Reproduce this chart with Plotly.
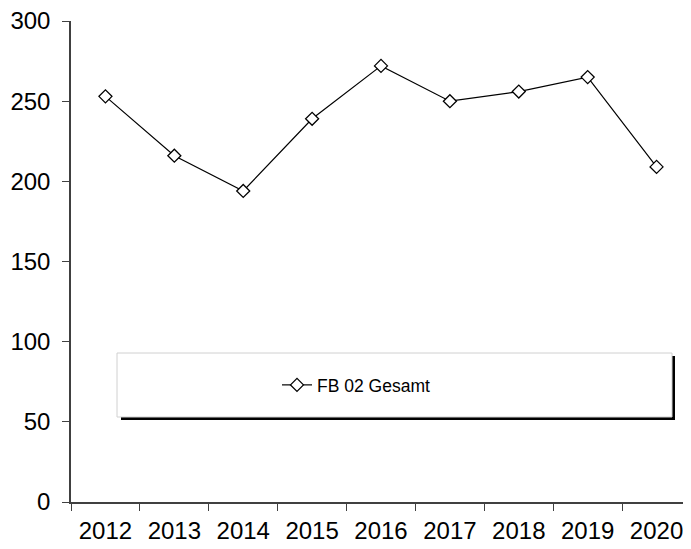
import plotly.graph_objects as go

years = ["2012", "2013", "2014", "2015", "2016", "2017", "2018", "2019", "2020"]
values = [253, 216, 194, 239, 272, 250, 256, 265, 209]
series_name = "FB 02 Gesamt"

fig = go.Figure()
fig.add_trace(go.Scatter(
    x=years, y=values, name=series_name, mode="lines+markers",
    line=dict(color="black", width=1.2),
    marker=dict(symbol="diamond", size=10, color="white",
                line=dict(color="black", width=1.3)),
))

# page body has an 8px margin; plot area in screen pixels: 71..691 x 21..502
OFF = 8
L, T, W, H = 71, 21, 620, 481
def px(x):
    return (x - L) / W
def py(y):
    return (T + H - y) / H

fig.add_shape(type="rect", xref="paper", yref="paper",
              x0=px(121), x1=px(675), y0=py(420), y1=py(356),
              fillcolor="black", line=dict(width=0))
fig.add_shape(type="rect", xref="paper", yref="paper",
              x0=px(117), x1=px(672), y0=py(417), y1=py(353),
              fillcolor="white", line=dict(color="#d0d0d0", width=1))

fig_w, fig_h = 691 - OFF, 549 - OFF
fig.update_layout(
    width=fig_w, height=fig_h,
    margin=dict(l=L - OFF, r=0, t=T - OFF, b=fig_h - (T - OFF) - H),
    paper_bgcolor="white", plot_bgcolor="white",
    font=dict(family="Liberation Sans, Arial", color="black"),
    showlegend=True,
    legend=dict(x=px(356), y=py(385), xanchor="center", yanchor="middle",
                bgcolor="rgba(0,0,0,0)", font=dict(size=17.5), itemwidth=30),
    xaxis=dict(type="category", showgrid=False, showline=True, linecolor="#404040",
               linewidth=1.5, ticks="outside", ticklen=7, tickcolor="#404040",
               tickson="boundaries", tickfont=dict(size=24), range=[-0.5, 8.5],
               ticklabelstandoff=6, automargin=False, ticklabeloverflow="allow"),
    yaxis=dict(range=[0, 300], dtick=50, showgrid=False, showline=True,
               linecolor="#404040", linewidth=1.5, ticks="outside", ticklen=7,
               tickcolor="#404040", tickfont=dict(size=24), zeroline=False,
               ticklabelstandoff=7, automargin=False, ticklabeloverflow="allow"),
)

fig.write_html("out.html")
